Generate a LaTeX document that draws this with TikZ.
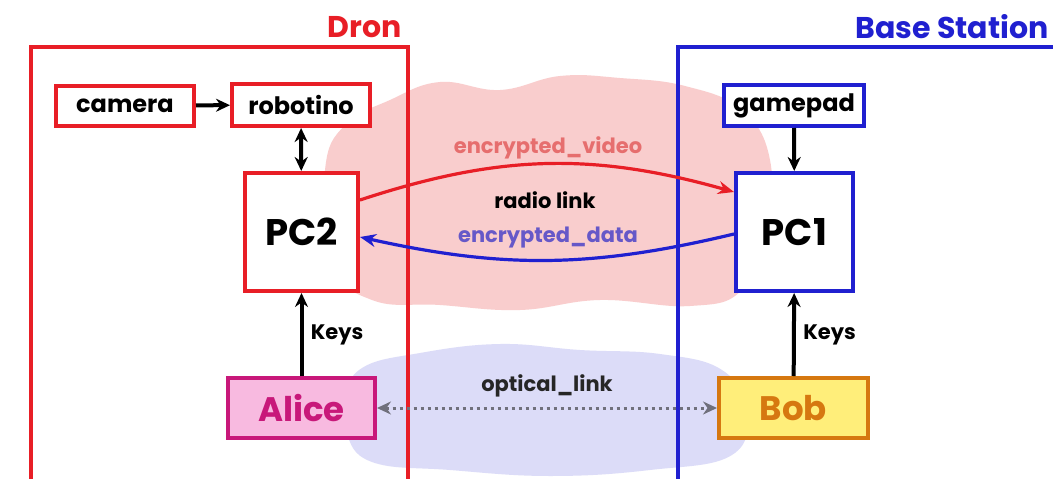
\documentclass[tikz,border=0pt]{standalone}
\usepackage{fontspec}
\setmainfont{Poppins}
\usetikzlibrary{arrows.meta}

\definecolor{dred}{RGB}{232,30,38}
\definecolor{dblue}{RGB}{32,32,208}
\definecolor{cloudred}{RGB}{249,205,205}
\definecolor{cloudblue}{RGB}{220,220,248}
\definecolor{alicefill}{RGB}{248,186,224}
\definecolor{aliceline}{RGB}{200,24,122}
\definecolor{bobfill}{RGB}{255,238,122}
\definecolor{bobline}{RGB}{214,120,16}
\definecolor{videotxt}{RGB}{230,110,110}
\definecolor{datatxt}{RGB}{102,88,200}
\definecolor{optgray}{RGB}{112,112,124}

\newcommand{\fs}[1]{\fontsize{#1}{#1}\selectfont\bfseries}

\tikzset{
  box/.style={draw, line width=4pt, fill=white, inner sep=0pt, font=\fs{24}},
  redbox/.style={box, draw=dred},
  bluebox/.style={box, draw=dblue},
  pcbox/.style={font=\fs{37}},
  frame/.style={line width=4pt},
  title/.style={font=\fs{30}, anchor=east},
  tip/.style={-{Stealth[length=14pt,width=13pt]}},
  conn/.style={line width=4pt, tip},
  link/.style={line width=3.2pt, -{Stealth[length=16pt,width=13pt]}},
  lbl/.style={font=\fs{21}},
}

\begin{document}
\begin{tikzpicture}[x=1pt,y=-1pt]
\clip (0,0) rectangle (1053,479);
\fill[white] (0,0) rectangle (1053,479);

% soft clouds behind the two links
\fill[cloudred] plot[smooth cycle, tension=0.7] coordinates {
  (325,170) (345,125) (390,100) (440,82) (500,90) (560,76) (620,78)
  (685,86) (742,110) (770,160) (766,232) (742,290) (690,306) (600,300)
  (520,310) (440,305) (372,300) (330,262)};
\fill[cloudblue] plot[smooth cycle, tension=0.7] coordinates {
  (345,400) (362,368) (420,353) (500,344) (580,350) (660,354) (722,370)
  (746,410) (732,455) (650,470) (550,476) (450,470) (372,462) (346,432)};

% the two sites
\draw[frame, dred] (31,47) rectangle (408,520);
\draw[frame, dblue] (678,47) rectangle (1100,520);
\node[title, text=dred] at (405,27) {Dron};
\node[title, text=dblue] at (1052,27) {Base Station};

% drone side
\node[redbox, minimum width=138pt, minimum height=40pt] (cam) at (125,105.5) {camera};
\node[redbox, minimum width=138pt, minimum height=42pt] (robo) at (301,105) {robotino};
\node[redbox, pcbox, minimum width=113pt, minimum height=118pt] (pc2) at (301.5,232) {PC2};
\node[box, draw=aliceline, fill=alicefill, text=aliceline, font=\fs{34},
      minimum width=147pt, minimum height=60pt] (alice) at (301.5,408) {Alice};

% base station side
\node[bluebox, minimum width=140pt, minimum height=41pt] (pad) at (794,105.5) {gamepad};
\node[bluebox, pcbox, minimum width=117pt, minimum height=118pt] (pc1) at (794.5,232) {PC1};
\node[box, draw=bobline, fill=bobfill, text=bobline, font=\fs{34},
      minimum width=149pt, minimum height=60pt] (bob) at (793.5,408) {Bob};

% local connections
\draw[conn] (cam) -- (robo);
\draw[conn, {Stealth[length=14pt,width=13pt]}-{Stealth[length=14pt,width=13pt]}] (robo) -- (pc2);
\draw[conn] (pad) -- (pc1);
\draw[conn] (alice) -- node[right, lbl, xshift=4pt] {Keys} (pc2);
\draw[conn] (bob) -- node[right, lbl, xshift=4pt] {Keys} (pc1);

% radio link
\draw[link, dred] (pc2.east |- 0,200) to[bend left=17] (pc1.west |- 0,192);
\draw[link, dblue] (pc1.west |- 0,234) to[bend left=13] (pc2.east |- 0,237);
\node[lbl, text=videotxt] (vid) at (548,148) {encrypted\_video};
\node[lbl] (radio) at (545,200) {radio link};
\node[lbl, text=datatxt] (dat) at (548,238) {encrypted\_data};

% optical link
\draw[optgray, line width=3pt, dash pattern=on 3pt off 4pt,
      {Stealth[length=14pt,width=13pt]}-{Stealth[length=14pt,width=13pt]}]
  (alice) -- node[above=6pt, lbl, text=black!85] (opt) {optical\_link} (bob);
\end{tikzpicture}
\end{document}
